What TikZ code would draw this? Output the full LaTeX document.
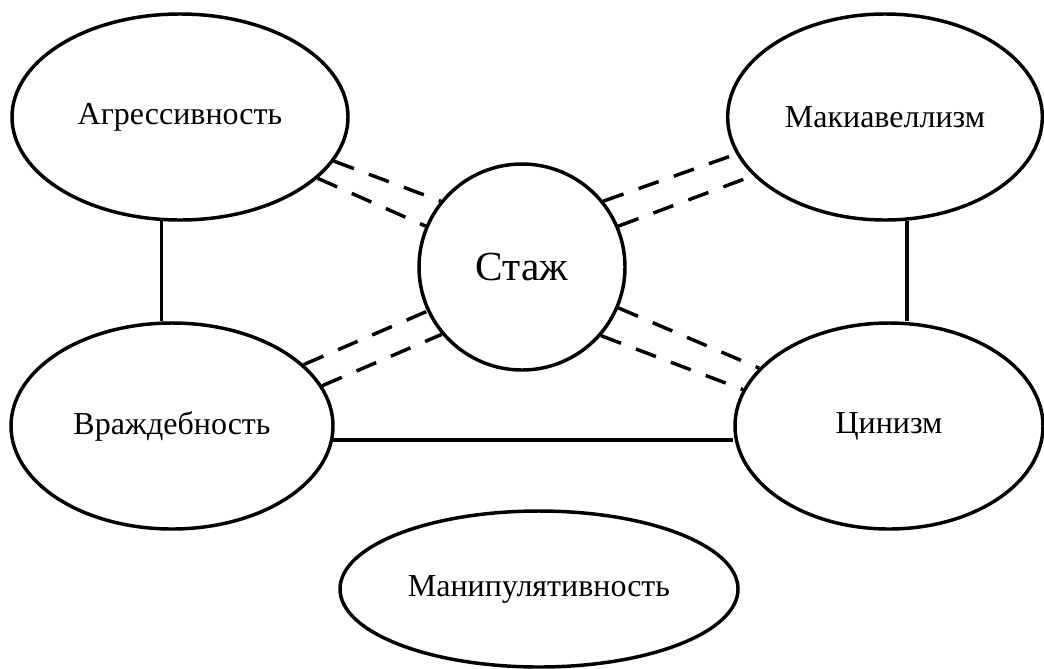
\documentclass[tikz,border=0pt]{standalone}
\usepackage{fontspec}
\setmainfont{Liberation Serif}
\usetikzlibrary{shapes.geometric}

\begin{document}
\begin{tikzpicture}[x=0.75pt,y=-0.75pt,
		oval/.style={draw,ellipse,line width=2.6pt,inner sep=0pt,minimum height=154.5pt,font=\fontsize{24}{27}\selectfont},
		link/.style={line width=2.6pt},
		dlink/.style={line width=2.6pt,dash pattern=on 16pt off 12pt}]
		\useasboundingbox (0,0) rectangle (1044,668);
		\node[oval,minimum width=252pt] (agr) at (180,117) {Агрессивность};
		\node[oval,minimum width=236pt] (mak) at (885,117) {Макиавеллизм};
		\node[oval,minimum width=241.5pt] (vrazh) at (172,426) {Враждебность};
		\node[oval,minimum width=231pt] (cin) at (889,426) {Цинизм};
		\node[oval,minimum width=298.5pt,minimum height=117pt] (manip) at (539,589) {Манипулятивность};
		\node[draw,circle,line width=2.6pt,inner sep=0pt,minimum size=154.5pt,font=\fontsize{31}{34}\selectfont] (stazh) at (522,267) {Стаж};
		\draw[link] (agr.-100) -- (agr.-100 |- vrazh.north);
		\draw[link] (mak.-78) -- (mak.-78 |- cin.north);
		\draw[link] (vrazh.-5) -- (vrazh.-5 -| cin.west);
		\draw[dlink] (agr.-16) -- (stazh.141);
		\draw[dlink] (agr.-24) -- (stazh.157);
		\draw[dlink] (stazh.39) -- (mak.-166);
		\draw[dlink] (stazh.23) -- (mak.-156);
		\draw[dlink] (vrazh.25) -- (stazh.-155);
		\draw[dlink] (vrazh.15) -- (stazh.-140);
		\draw[dlink] (stazh.-23) -- (cin.156);
		\draw[dlink] (stazh.-41) -- (cin.166);
\end{tikzpicture}
\end{document}
